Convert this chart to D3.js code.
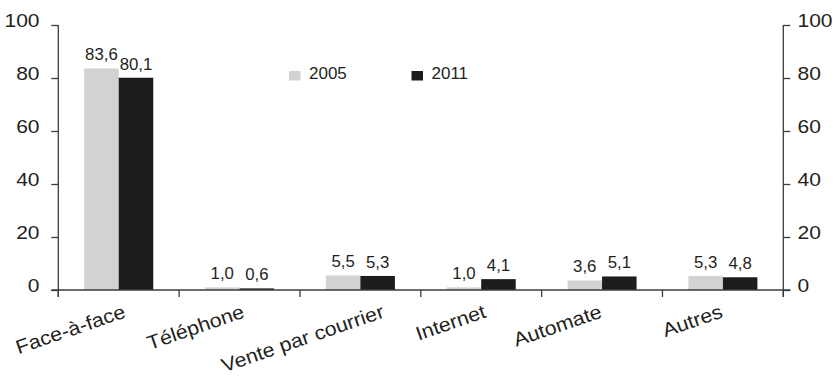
<!DOCTYPE html>
<html>
<head>
<meta charset="utf-8">
<script src="https://cdn.jsdelivr.net/npm/d3@7"></script>
<style>
  html, body { margin: 0; padding: 0; background: #fff; }
  svg { display: block; }
  text { font-family: "Liberation Sans", Arial, Helvetica, sans-serif; fill: #231f20; }
</style>
</head>
<body>
<svg id="chart" width="837" height="377"></svg>
<script>
// Répartition des ventes par canal, 2005 et 2011 (en %)
const categories = ["Face-à-face", "Téléphone", "Vente par courrier", "Internet", "Automate", "Autres"];
const years = ["2005", "2011"];
const values2005 = [83.6, 1.0, 5.5, 1.0, 3.6, 5.3];
const values2011 = [80.1, 0.6, 5.3, 4.1, 5.1, 4.8];
const yTicks = [0, 20, 40, 60, 80, 100];

const colors = { "2005": "#d1d2d4", "2011": "#1d1b1c" };
const axisColor = "#3c3c3c";

// layout
const plotLeft = 58.3, plotRight = 783.3, plotTop = 25, plotBottom = 290;
const tickLen = 7;
const labelDx = [8, 6, 25, 6, 1, 1];   // horizontal nudge of each rotated category label

const fr = d3.formatLocale({ decimal: ",", thousands: " ", grouping: [3], currency: ["", " €"] });
const fmt = fr.format(".1f");

const svg = d3.select("#chart");

const x0 = d3.scaleBand().domain(categories).range([plotLeft, plotRight]).padding(0);
const x1 = d3.scaleBand().domain(years).range([0, x0.bandwidth()]).paddingInner(0).paddingOuter(0.75);
const y = d3.scaleLinear().domain([0, 100]).range([plotBottom, plotTop]);

const rows = categories.map((c, i) => ({ cat: c, vals: [
  { year: "2005", v: values2005[i] },
  { year: "2011", v: values2011[i] }
]}));

// bars
const groups = svg.append("g").selectAll("g").data(rows).join("g")
  .attr("transform", d => `translate(${x0(d.cat)},0)`);

groups.selectAll("rect").data(d => d.vals).join("rect")
  .attr("x", d => x1(d.year))
  .attr("y", d => y(d.v))
  .attr("width", x1.bandwidth())
  .attr("height", d => y(0) - y(d.v))
  .attr("fill", d => colors[d.year]);

// value labels
groups.selectAll("text").data(d => d.vals).join("text")
  .attr("transform", d => `translate(${x1(d.year) + x1.bandwidth() / 2},${y(d.v) - 8}) scale(1.05,1)`)
  .attr("text-anchor", "middle")
  .style("font-size", "16px")
  .text(d => fmt(d.v));

// left axis
const leftAxis = svg.append("g").attr("transform", `translate(${plotLeft},0)`)
  .call(d3.axisLeft(y).tickValues(yTicks).tickSize(tickLen).tickSizeOuter(0).tickFormat(d3.format("d")));
leftAxis.select(".domain").remove();
leftAxis.selectAll("line").attr("stroke", axisColor).attr("stroke-width", 1.3);
leftAxis.selectAll("text")
  .attr("x", null).attr("dy", null)
  .attr("transform", `translate(${39.5 - plotLeft},1.5) scale(1.2,1)`)
  .style("font-size", "17.5px").style("fill", "#231f20");
leftAxis.attr("font-family", null).attr("font-size", null);

// right axis
const rightAxis = svg.append("g").attr("transform", `translate(${plotRight},0)`)
  .call(d3.axisRight(y).tickValues(yTicks).tickSize(tickLen).tickSizeOuter(0).tickFormat(d3.format("d")));
rightAxis.select(".domain").remove();
rightAxis.selectAll("line").attr("stroke", axisColor).attr("stroke-width", 1.3);
rightAxis.selectAll("text")
  .attr("x", null).attr("dy", null)
  .attr("transform", `translate(${797.5 - plotRight},1.5) scale(1.2,1)`)
  .style("font-size", "17.5px").style("fill", "#231f20");
rightAxis.attr("font-family", null).attr("font-size", null);

// vertical axis lines
[plotLeft, plotRight].forEach(xp => {
  svg.append("line")
    .attr("x1", xp).attr("x2", xp).attr("y1", y(100)).attr("y2", y(0) + tickLen)
    .attr("stroke", axisColor).attr("stroke-width", 1.3);
});

// horizontal axis with category separators
svg.append("line")
  .attr("x1", plotLeft - tickLen).attr("x2", plotRight + tickLen)
  .attr("y1", y(0)).attr("y2", y(0))
  .attr("stroke", axisColor).attr("stroke-width", 1.3);

const seps = categories.map(c => x0(c)).concat([x0.range()[1]]);
svg.append("g").selectAll("line").data(seps).join("line")
  .attr("x1", d => d).attr("x2", d => d)
  .attr("y1", y(0)).attr("y2", y(0) + tickLen)
  .attr("stroke", axisColor).attr("stroke-width", 1.3);

// rotated category labels
svg.append("g").selectAll("text").data(categories).join("text")
  .attr("transform", (d, i) => `translate(${x0(d) + x0.bandwidth() / 2 + labelDx[i]},317) rotate(-19) scale(1.1,1)`)
  .attr("text-anchor", "end")
  .style("font-size", "19.5px")
  .text(d => d);

// legend
const legendX = [289, 411.5];
const legend = svg.append("g").selectAll("g").data(years).join("g")
  .attr("transform", (d, i) => `translate(${legendX[i]},71)`);
legend.append("rect")
  .attr("width", 11.5).attr("height", 9.5)
  .attr("fill", d => colors[d]);
legend.append("text")
  .attr("x", 20).attr("y", 7.5)
  .style("font-size", "17px")
  .text(d => d);
</script>
</body>
</html>
